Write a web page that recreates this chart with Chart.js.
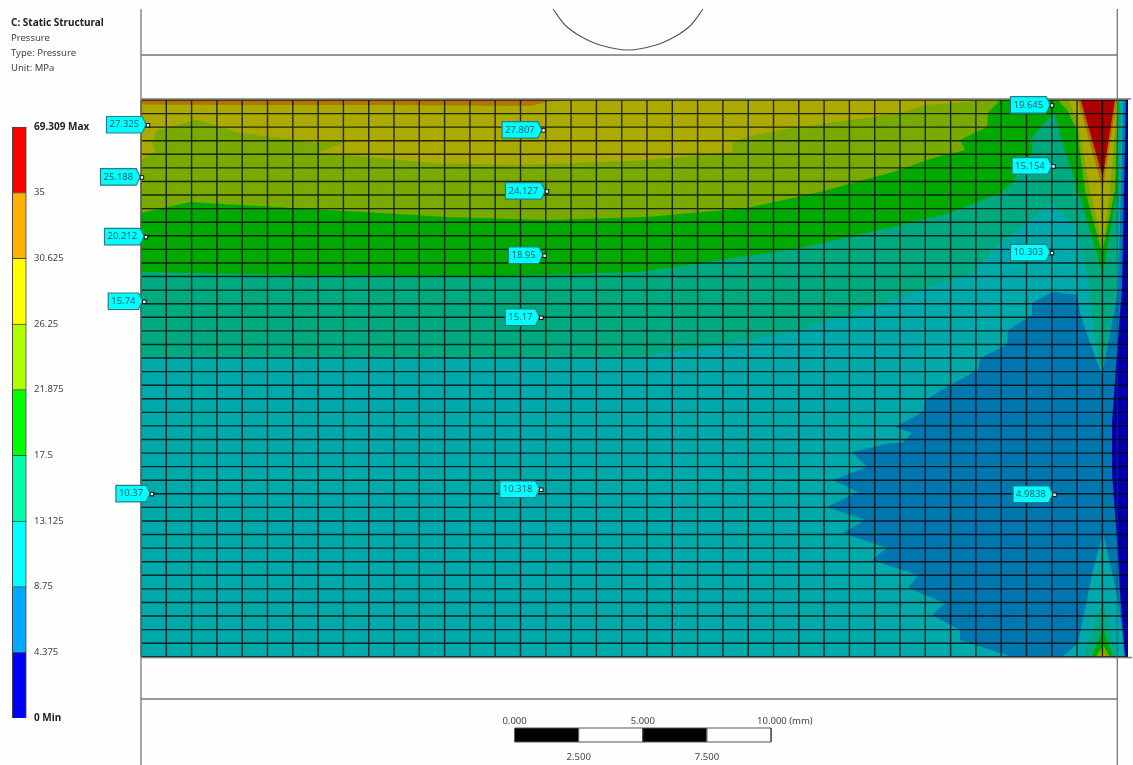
<!DOCTYPE html>
<html>
<head>
<meta charset="utf-8">
<title>Static Structural - Pressure</title>
<script src="https://cdn.jsdelivr.net/npm/chart.js@4"></script>
<style>
  html, body { margin: 0; padding: 0; background: #fefefe; }
  canvas { display: block; filter: blur(0.45px); }
</style>
</head>
<body>
<canvas id="plot" width="1133" height="765"></canvas>
<script>
// legend: contour levels, top to bottom
const legendLevels = ["69.309 Max", "35", "30.625", "26.25", "21.875", "17.5", "13.125", "8.75", "4.375", "0 Min"];
const legendColors = ["#ff0000", "#ffb000", "#ffff00", "#b0ff00", "#00ff00", "#00ffaa", "#00ffff", "#00aaff", "#0000ff"];

// probes on the plate
const probeLabels = ["27.325", "25.188", "20.212", "15.74", "10.37", "27.807", "24.127", "18.95", "15.17", "10.318", "19.645", "15.154", "10.303", "4.9838"];
const probeX = [0.67, 0.07, 0.47, 0.3, 1.07, 40.23, 40.57, 40.33, 40, 40, 91.07, 91.23, 91.07, 91.33];
const probeY = [2.55, 7.77, 13.73, 20.2, 39.43, 3.07, 9.17, 15.6, 21.8, 39, 0.57, 6.67, 15.33, 39.5];

// contour outlines, [x, y] on the plate, y measured down from the top edge
const plateOutline = [[0, 0], [98.7, 0], [98.7, 55.7], [0, 55.7]];
const band4 = [[91.1, 19.2], [89.1, 20.3], [89.1, 21.5], [86.7, 23], [86.6, 24.5], [83.9, 25.8], [83.7, 27], [80.9, 28.5], [78.4, 30], [78.2, 31.2], [75.4, 32.7], [77.1, 33.3], [76.1, 34.3], [74.9, 34.3], [71.1, 35.2], [72.6, 36.7], [69.2, 38], [71.7, 39.2], [68.6, 40.7], [72.4, 42], [70.2, 43.3], [74.6, 44.8], [73.1, 46], [77.7, 47.5], [76.7, 48.8], [80.4, 50.3], [79.1, 51.5], [81.9, 53], [81.9, 54], [87.2, 55.7], [92.1, 55.7], [93.7, 54.3], [95.2, 47], [96.2, 43.3], [97.7, 50], [98.4, 55.7], [98.7, 55.7], [98.7, 0], [98.25, 0], [98, 9], [97.7, 19], [96.1, 27.5], [94.9, 24.3], [93.9, 21.3], [93.6, 19.5]];
const band0 = [[98.5, 0], [98.3, 9], [98.1, 19], [97.9, 21.3], [97.4, 28], [97.1, 32.3], [97.1, 37.3], [97.4, 41.3], [97.7, 45.3], [97.9, 49.3], [98.4, 55.7], [98.7, 55.7], [98.7, 0]];
const band13 = [[0, 0], [97.95, 0], [97.95, 9], [97.6, 15], [97.4, 19.7], [96.1, 27.3], [95.4, 24], [94.7, 18], [93.6, 12.8], [91.1, 10.3], [85.9, 14.3], [83.1, 17.3], [80.9, 18], [75.9, 19.7], [65.9, 23], [57.9, 24.5], [49.9, 25.7], [35.9, 25.8], [15.9, 25.7], [0, 25.7]];
const band17 = [[0, 17.2], [15.9, 17.5], [35.9, 17.6], [49.9, 17.2], [65.9, 14.8], [75.9, 12.5], [80.9, 11.3], [85.9, 9.3], [87.1, 8.3], [89.2, 5], [88.9, 4], [91.3, 1.2], [92.2, 4.5], [93.7, 9], [96.2, 17.5], [97.6, 9], [97.75, 0], [0, 0]];
const band21 = [[0, 11.3], [4.9, 10.2], [9.9, 10.5], [23.9, 11.3], [30.6, 11.7], [40.6, 12], [50.6, 11.7], [60.6, 10.8], [67.9, 9.2], [75.9, 7], [79.2, 5.8], [82.4, 5], [81.9, 4], [84.6, 2.7], [84.7, 1.3], [85.9, 0], [0, 0]];
const band26 = [[0, 0], [0, 6], [1.4, 5.2], [1.1, 4.3], [1.6, 3], [5.6, 2], [9.9, 3.3], [17.6, 4.3], [20.9, 4], [17.6, 5.3], [23.9, 5.8], [28.9, 6.3], [37.2, 6.5], [43.9, 6.3], [50.6, 6], [59.2, 5.2], [59.1, 4.2], [60.6, 3.7], [63.9, 3], [70.9, 2], [75.9, 1.3], [78.4, 0.5], [82.6, 0.2], [83.9, 0]];
const band30 = [[0, 0], [0, 0.45], [10, 0.5], [23.9, 0.5], [38.9, 0.6], [40.6, 0.2], [42.6, 0]];
// the spike under the contact edge
const spike21 = [[91.7, 0], [92.6, 1], [93.6, 3], [94.4, 9], [96.1, 15.3], [97.4, 9], [97.7, 0]];
const spike26 = [[92.7, 0], [93.6, 1.8], [94.9, 9], [96.17, 14.5], [96.9, 9], [97.65, 0]];
const spike30 = [[93.7, 0], [96.17, 8.9], [97.6, 0]];
const spike35 = [[93.97, 0], [96.17, 7.7], [97.4, 0]];
// small fan at the bottom edge
const fan13 = [[96.2, 50], [94.2, 55.7], [97.6, 55.7]];
const fan17 = [[96.2, 52.8], [95.1, 55.7], [97.2, 55.7]];
const fan21 = [[96.2, 54.5], [95.5, 55.7], [96.9, 55.7]];
const fan26 = [[96.15, 55], [95.7, 55.7], [96.5, 55.7]];

// mesh
const meshColumns = 39;
const meshRows = 42;
const meshDx = 2.53;
const meshDy = 1.358;

// fixture outline and hole
const holeArc = [[41.2, -9.1], [42.4, -7.5], [43.9, -6.4], [45.9, -5.5], [48.7, -5], [51.5, -5.5], [53.5, -6.4], [55, -7.5], [56.2, -9.1]];
const frameLines = [
  [[0, -9.1], [0, 66.5]],
  [[97.63, -9.1], [97.63, -0.1]],
  [[97.63, 55.75], [97.63, 66.5]],
  [[0, -4.5], [97.63, -4.5]],
  [[0, -0.1], [99, -0.1]],
  [[0, 55.75], [99.1, 55.75]],
  [[0, 59.9], [97.63, 59.9]]
];

// scale bar, mm
const barStops = [0, 2.5, 5, 7.5, 10];
const barColors = ["#000000", "#ffffff", "#000000", "#ffffff"];

const toPoints = list => list.map(p => ({ x: p[0], y: p[1] }));

function area(list, color) {
  return { type: "line", data: toPoints(list), fill: "shape", backgroundColor: color, borderWidth: 0, pointRadius: 0, tension: 0 };
}

function stroke(list, color, width, extra) {
  return Object.assign({ type: "line", data: list, borderColor: color, borderWidth: width, pointRadius: 0, tension: 0, fill: false, spanGaps: false }, extra || {});
}

// mesh lines as one broken line
const meshPoints = [];
for (let i = 0; i < meshColumns; i++) {
  meshPoints.push({ x: i * meshDx, y: 0 }, { x: i * meshDx, y: (meshRows - 1) * meshDy }, { x: null, y: null });
}
for (let j = 0; j < meshRows; j++) {
  meshPoints.push({ x: 0, y: j * meshDy }, { x: 98.7, y: j * meshDy }, { x: null, y: null });
}

// back to front
const layers = [
  area(plateOutline, "#00aaaa"),
  area(band4, "#0077ae"),
  area(band0, "#0000aa"),
  area(band13, "#00aa80"),
  area(band17, "#00aa00"),
  area(band21, "#78aa00"),
  area(band26, "#aaaa00"),
  area(band30, "#b07600"),
  area(spike21, "#78aa00"),
  area(spike26, "#aaaa00"),
  area(spike30, "#b07600"),
  area(spike35, "#aa0000"),
  area(fan13, "#00aa80"),
  area(fan17, "#00aa00"),
  area(fan21, "#78aa00"),
  area(fan26, "#aaaa00"),
  stroke(meshPoints, "rgba(0,0,0,0.78)", 1.4),
  stroke(toPoints([[97.63, 0], [97.63, 55.7]]), "rgba(60,60,60,0.25)", 1)
];

frameLines.forEach(l => layers.push(stroke(toPoints(l), "#777777", 1.3)));
layers.push(stroke(toPoints(holeArc), "#555555", 1.1, { tension: 0.3 }));

// scale bar segments on their own mm axis
barColors.forEach((c, i) => {
  const seg = [[barStops[i], 62.8], [barStops[i + 1], 62.8], [barStops[i + 1], 64.2], [barStops[i], 64.2], [barStops[i], 62.8]];
  layers.push(Object.assign(area(seg, c), { xAxisID: "barX", borderColor: "#555555", borderWidth: 1 }));
});

// colour key, one floating bar per band
const legendBars = {
  type: "bar",
  yAxisID: "legendY",
  data: legendColors.map((c, i) => ({ x: -11.47, y: [8 - i, 9 - i] })),
  backgroundColor: legendColors,
  borderColor: "#444444",
  borderWidth: 1,
  barThickness: 14
};
layers.push(legendBars);

layers.forEach((d, i) => { d.order = layers.length - i; });

const textFont = '"Noto Sans", sans-serif';

function putText(ctx, text, x, y, font, color, align) {
  ctx.font = font;
  ctx.fillStyle = color;
  ctx.textAlign = align || "left";
  ctx.textBaseline = "middle";
  ctx.fillText(text, x, y);
}

const annotations = {
  id: "annotations",
  afterDatasetsDraw(chart) {
    const ctx = chart.ctx;
    const xs = chart.scales.x, ys = chart.scales.y, bar = chart.scales.barX, key = chart.scales.legendY;
    ctx.save();

    // heading
    const left = xs.getPixelForValue(-13);
    putText(ctx, "C: Static Structural", left, ys.getPixelForValue(-7.7), "bold 10px " + textFont, "#222222");
    putText(ctx, "Pressure", left, ys.getPixelForValue(-6.2), "9.5px " + textFont, "#444444");
    putText(ctx, "Type: Pressure", left, ys.getPixelForValue(-4.7), "9.5px " + textFont, "#444444");
    putText(ctx, "Unit: MPa", left, ys.getPixelForValue(-3.2), "9.5px " + textFont, "#444444");

    // legend levels
    legendLevels.forEach((t, i) => {
      const bold = i === 0 || i === legendLevels.length - 1;
      putText(ctx, t, xs.getPixelForValue(-10.7), key.getPixelForValue(9 - i), (bold ? "bold 10px " : "9.5px ") + textFont, bold ? "#222222" : "#444444");
    });

    // probes
    probeLabels.forEach((t, i) => {
      const ax = xs.getPixelForValue(probeX[i]);
      const ay = ys.getPixelForValue(probeY[i]);
      ctx.font = "9.5px " + textFont;
      const w = ctx.measureText(t).width + 6;
      const right = ax - 5.5, tip = ax - 1.5, top = ay - 9, bottom = ay + 7.5;
      ctx.beginPath();
      ctx.moveTo(right - w, top);
      ctx.lineTo(right, top);
      ctx.lineTo(tip, ay - 1);
      ctx.lineTo(right, bottom);
      ctx.lineTo(right - w, bottom);
      ctx.closePath();
      ctx.fillStyle = "#00ffff";
      ctx.fill();
      ctx.strokeStyle = "#2a7d84";
      ctx.lineWidth = 1.2;
      ctx.stroke();
      putText(ctx, t, right - w / 2, ay - 0.8, "9.5px " + textFont, "#0a5f68", "center");
      ctx.fillStyle = "#ffffff";
      ctx.fillRect(ax - 1.5, ay - 2, 3.5, 3.5);
      ctx.strokeStyle = "#111111";
      ctx.lineWidth = 1;
      ctx.strokeRect(ax - 1.5, ay - 2, 3.5, 3.5);
    });

    // scale bar text
    const upper = ys.getPixelForValue(62.1), lower = ys.getPixelForValue(65.7);
    putText(ctx, "0.000", bar.getPixelForValue(0), upper, "9.5px " + textFont, "#444444", "center");
    putText(ctx, "5.000", bar.getPixelForValue(5), upper, "9.5px " + textFont, "#444444", "center");
    putText(ctx, "10.000 (mm)", bar.getPixelForValue(10) - 14, upper, "9.5px " + textFont, "#444444");
    putText(ctx, "2.500", bar.getPixelForValue(2.5), lower, "9.5px " + textFont, "#444444", "center");
    putText(ctx, "7.500", bar.getPixelForValue(7.5), lower, "9.5px " + textFont, "#444444", "center");

    ctx.restore();
  }
};

new Chart(document.getElementById("plot"), {
  type: "line",
  data: { datasets: layers },
  options: {
    responsive: false,
    animation: false,
    events: [],
    layout: { padding: 0 },
    plugins: { legend: { display: false }, tooltip: { enabled: false } },
    scales: {
      x: { type: "linear", display: false, offset: false, min: -14.1, max: 99.2 },
      y: { type: "linear", display: false, min: -10, max: 66.5, reverse: true },
      barX: { type: "linear", display: false, axis: "x", min: -20.06, max: 24.11 },
      legendY: { type: "linear", display: false, axis: "y", min: -0.7157, max: 10.934 }
    }
  },
  plugins: [annotations]
});
</script>
</body>
</html>
